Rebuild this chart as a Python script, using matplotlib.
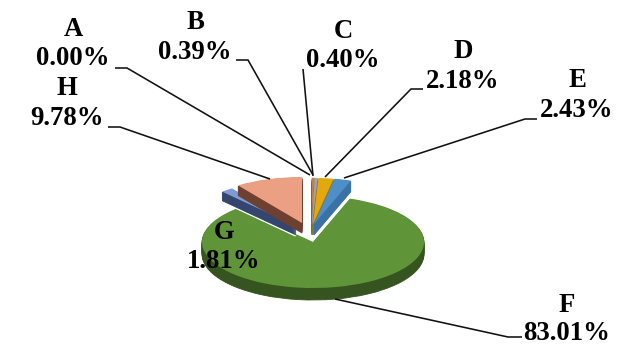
import matplotlib
matplotlib.use("Agg")
import matplotlib.pyplot as plt

W, H = 629, 347
names = ["A", "B", "C", "D", "E", "F", "G", "H"]
values = [0.00, 0.39, 0.40, 2.18, 2.43, 83.01, 1.81, 9.78]
value_labels = ["0.00%", "0.39%", "0.40%", "2.18%", "2.43%", "83.01%", "1.81%", "9.78%"]

top_colors = ["#5B9BD5", "#CF7B45", "#A5A5A5", "#E3A90C", "#4E8FC8", "#5F9439", "#7F9BD6", "#EB9F83"]
side_colors = ["#3A6A9A", "#8A4E28", "#6E6E6E", "#A27A06", "#3A72A6", "#36541F", "#34466E", "#6E4030"]

# layout, in reference pixels
CX, CY, RX, RY = 313, 242, 111, 46
depths = [11, 11, 11, 11, 11, 12, 9, 10]
shift_px = [(0, 18), (-1, 18), (-1, 18), (0, 18), (1, 18), (0, 0), (-17, 16), (-11, 19)]
label_pos = [(73, 29, 58), (195, 22, 52), (343, 31, 60), (463, 51, 81),
             (577, 80, 110), (567, 305, 334), (224, 232, 262), (67, 88, 118)]
leaders = [
    [(115, 68), (127, 68), (310, 175)],
    [(236, 60), (248, 60), (313, 175)],
    [(303, 69), (313, 176)],
    [(423, 89), (411, 89), (325, 177)],
    [(537, 119), (525, 119), (344, 178)],
    [(522, 337), (508, 337), (335, 299)],
    [(108, 127), (120, 127), (270, 179)],
]

fig = plt.figure(figsize=(W / 100, H / 100), dpi=100, facecolor="white")
ax = fig.add_axes([0, 0, 1, 1])


def draw_layer(i, drop, color, lw, zorder):
    wedges, _ = ax.pie(values, startangle=90, counterclock=False, radius=1,
                       colors=["none"] * len(values))
    for j, w in enumerate(wedges):
        if j != i:
            w.remove()
            continue
        dx, dy = shift_px[i]
        w.set_center((dx / RX, (dy - drop) / RY))
        w.set_facecolor(color)
        w.set_edgecolor(color if lw else "none")
        w.set_linewidth(lw)
        w.set_zorder(zorder)


draw_order = [5, 6, 7, 0, 1, 2, 3, 4]
HALO_Z = 150  # above the green slice, below every pulled-out slice
for z, i in enumerate(draw_order):
    base = 50 if i == 5 else z * 100 + 200
    d_max = depths[i]
    if i != 5:
        # white border that separates the pulled-out slice from the green one
        for d in range(d_max, -1, -3):
            draw_layer(i, d, "white", 2.5, HALO_Z)
    for d in range(d_max, 0, -1):
        draw_layer(i, d, side_colors[i], 0.6, base + d_max - d)
    draw_layer(i, 0, top_colors[i], 0.3 if values[i] < 1 else 0, base + d_max + 1)

ax.set_aspect("auto")
ax.set_xlim(-CX / RX, (W - CX) / RX)
ax.set_ylim((CY - H) / RY, CY / RY)
ax.axis("off")

ov = fig.add_axes([0, 0, 1, 1], facecolor="none")
ov.set_xlim(0, W)
ov.set_ylim(H, 0)
ov.axis("off")
for pts in leaders:
    ov.plot([p[0] for p in pts], [p[1] for p in pts], color="#111111", lw=1.15,
            solid_capstyle="butt", solid_joinstyle="miter")
font = dict(family="Liberation Serif", weight="bold", fontsize=19.3, color="black",
            ha="center", va="center")
for name, lab, (x, y1, y2) in zip(names, value_labels, label_pos):
    ov.text(x, y1, name, **font)
    ov.text(x, y2, lab, **font)

fig.savefig("out.png", dpi=100)
